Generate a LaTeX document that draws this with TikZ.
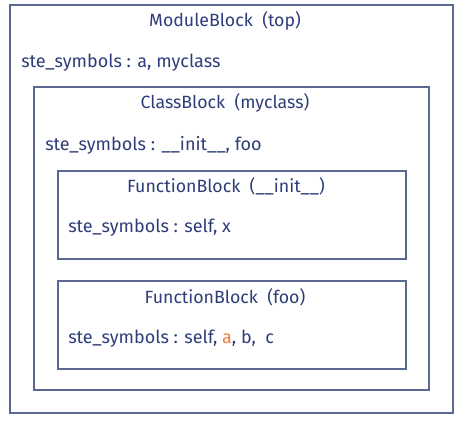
\documentclass[tikz,border=0pt]{standalone}
\usepackage{fontspec}
\setmainfont{Fira Sans}
\definecolor{ink}{HTML}{2E3D7A}
\definecolor{edge}{HTML}{5B6894}
\definecolor{hot}{HTML}{F07A3A}
\begin{document}
\begin{tikzpicture}[x=0.75pt,y=-0.75pt,
  blk/.style={draw=edge,line width=1.1pt},
  ttl/.style={text=ink,font=\fontsize{13.3}{15}\selectfont,inner sep=0pt,anchor=center},
  sym/.style={text=ink,font=\fontsize{13.5}{15}\selectfont,inner sep=0pt,anchor=west}]
\useasboundingbox (0,0) rectangle (473,427);
\draw[blk] (10,5) rectangle (453,413);
\draw[blk] (34,87) rectangle (429,390);
\draw[blk] (58,171) rectangle (406,259);
\draw[blk] (58,281) rectangle (406,369);
\node[ttl] (mt) at (225,21) {ModuleBlock\ \ (top)};
\node[sym] (ms) at (21,63) {ste\_symbols : a, myclass};
\node[ttl] (ct) at (225,103) {ClassBlock\ \ (myclass)};
\node[sym] (cs) at (45,145) {ste\_symbols : \_\_init\_\_, foo};
\node[ttl] (ft) at (226,186) {FunctionBlock\ \ (\_\_init\_\_)};
\node[sym] (fs) at (68,228) {ste\_symbols : self, x};
\node[ttl] (gt) at (225,297) {FunctionBlock\ \ (foo)};
\node[sym] (gs) at (68,339) {ste\_symbols : self, \textcolor{hot}{a}, b,\ \ c};
\end{tikzpicture}
\end{document}
